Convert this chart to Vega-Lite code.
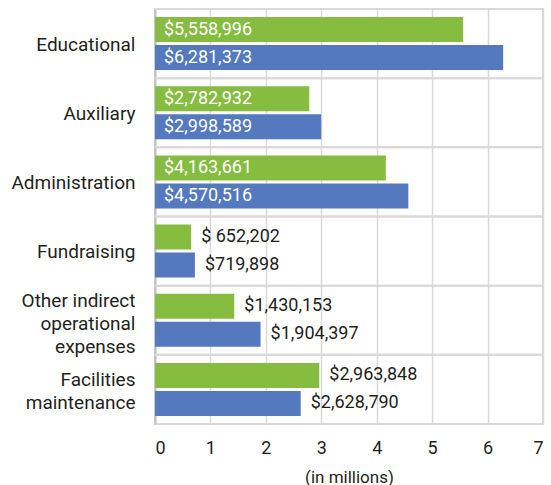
{
  "$schema": "https://vega.github.io/schema/vega-lite/v6.json",
  "width": 388,
  "height": 415,
  "autosize": {"type": "none"},
  "padding": {"left": 155, "top": 9, "right": 8, "bottom": 61},
  "background": "white",
  "config": {
    "font": "Roboto",
    "view": {"stroke": "#d9d9d9", "strokeWidth": 2},
    "axis": {"labelColor": "#231f20", "titleColor": "#231f20", "labelFont": "Roboto", "titleFont": "Roboto"}
  },
  "data": {
    "values": [
      {"category": "Educational", "series": "A", "value": 5.558996, "label": "$5,558,996"},
      {"category": "Educational", "series": "B", "value": 6.281373, "label": "$6,281,373"},
      {"category": "Auxiliary", "series": "A", "value": 2.782932, "label": "$2,782,932"},
      {"category": "Auxiliary", "series": "B", "value": 2.998589, "label": "$2,998,589"},
      {"category": "Administration", "series": "A", "value": 4.163661, "label": "$4,163,661"},
      {"category": "Administration", "series": "B", "value": 4.570516, "label": "$4,570,516"},
      {"category": "Fundraising", "series": "A", "value": 0.652202, "label": "$ 652,202"},
      {"category": "Fundraising", "series": "B", "value": 0.719898, "label": "$719,898"},
      {"category": "Other indirect operational expenses", "series": "A", "value": 1.430153, "label": "$1,430,153"},
      {"category": "Other indirect operational expenses", "series": "B", "value": 1.904397, "label": "$1,904,397"},
      {"category": "Facilities maintenance", "series": "A", "value": 2.963848, "label": "$2,963,848"},
      {"category": "Facilities maintenance", "series": "B", "value": 2.62879, "label": "$2,628,790"}
    ]
  },
  "encoding": {
    "y": {
      "field": "category",
      "type": "nominal",
      "sort": ["Educational", "Auxiliary", "Administration", "Fundraising", "Other indirect operational expenses", "Facilities maintenance"],
      "scale": {"paddingInner": 0, "paddingOuter": 0},
      "axis": {
        "title": null,
        "grid": false,
        "ticks": false,
        "domainColor": "#bfbfbf",
        "domainWidth": 2,
        "labelFontSize": 19,
        "labelPadding": 20,
        "labelLineHeight": 23,
        "labelBaseline": "middle",
        "labelOffset": {
          "condition": [
            {"test": "datum.value == 'Other indirect operational expenses'", "value": -19},
            {"test": "datum.value == 'Facilities maintenance'", "value": -9}
          ],
          "value": 1
        },
        "labelLimit": 200,
        "labelExpr": "datum.value == 'Other indirect operational expenses' ? ['Other indirect', 'operational', 'expenses'] : datum.value == 'Facilities maintenance' ? ['Facilities', 'maintenance'] : datum.value"
      }
    }
  },
  "layer": [
    {
      "mark": {"type": "rule", "color": "#d9d9d9", "strokeWidth": 2},
      "encoding": {
        "y": {
          "field": "category",
          "type": "nominal",
          "bandPosition": 0,
          "sort": ["Educational", "Auxiliary", "Administration", "Fundraising", "Other indirect operational expenses", "Facilities maintenance"]
        }
      }
    },
    {
      "mark": {"type": "bar"},
      "encoding": {
        "x": {
          "field": "value",
          "type": "quantitative",
          "scale": {"domain": [0, 7], "nice": false},
          "axis": {
            "title": "(in millions)",
            "values": [0, 1, 2, 3, 4, 5, 6, 7],
            "format": "d",
            "grid": true,
            "gridColor": "#d9d9d9",
            "gridWidth": 1.5,
            "domain": false,
            "ticks": false,
            "labelFontSize": 18,
            "labelPadding": 15,
            "titleFontSize": 17,
            "titleFontWeight": "normal",
            "titlePadding": 12
          }
        },
        "yOffset": {
          "field": "series",
          "type": "nominal",
          "scale": {"paddingInner": 0.107, "paddingOuter": 0.29}
        },
        "color": {
          "field": "series",
          "type": "nominal",
          "scale": {"domain": ["A", "B"], "range": ["#86bd40", "#5479bf"]},
          "legend": null
        }
      }
    },
    {
      "transform": [{"filter": {"field": "category", "oneOf": ["Educational", "Auxiliary", "Administration"]}}],
      "mark": {"type": "text", "align": "left", "baseline": "middle", "dx": 9, "color": "white", "fontSize": 18},
      "encoding": {
        "x": {"datum": 0, "type": "quantitative"},
        "yOffset": {"field": "series", "type": "nominal"},
        "text": {"field": "label", "type": "nominal"}
      }
    },
    {
      "transform": [{"filter": {"not": {"field": "category", "oneOf": ["Educational", "Auxiliary", "Administration"]}}}],
      "mark": {"type": "text", "align": "left", "baseline": "middle", "dx": 10, "color": "#231f20", "fontSize": 18},
      "encoding": {
        "x": {"field": "value", "type": "quantitative"},
        "yOffset": {"field": "series", "type": "nominal"},
        "text": {"field": "label", "type": "nominal"}
      }
    }
  ]
}
